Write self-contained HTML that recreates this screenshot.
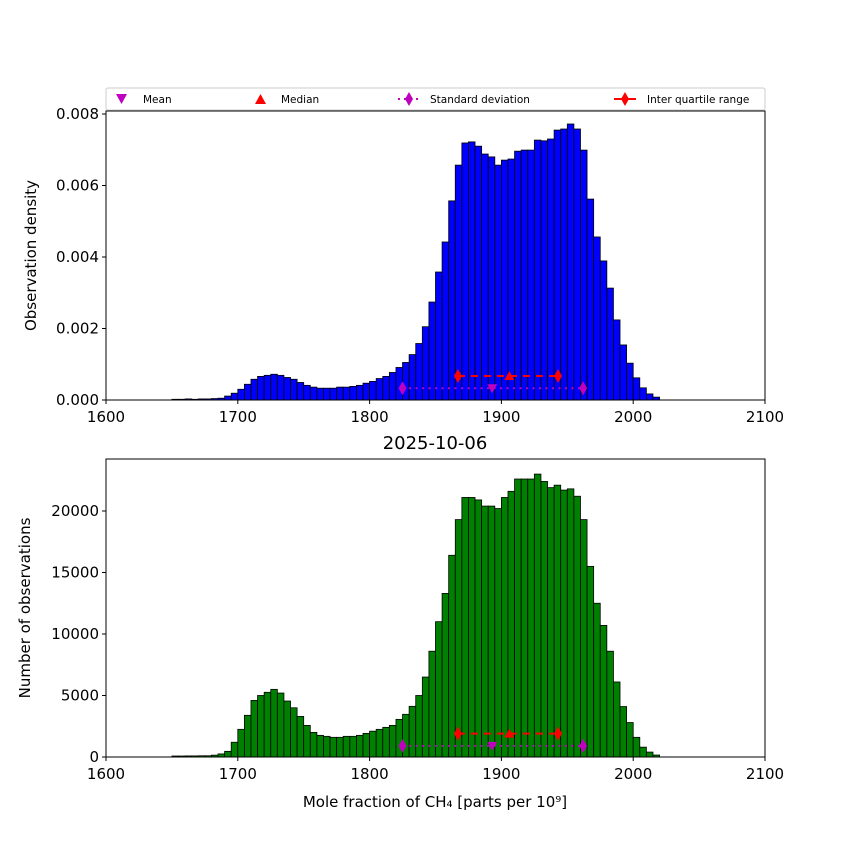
<!DOCTYPE html>
<html><head><meta charset="utf-8"><style>
body{margin:0;background:#fff;}
svg text{font-family:"DejaVu Sans","Liberation Sans",sans-serif;}
</style></head><body>
<svg id="fig" width="850" height="850" xmlns="http://www.w3.org/2000/svg"></svg>
<script>
const binStarts=[1650,1655,1660,1665,1670,1675,1680,1685,1690,1695,1700,1705,1710,1715,1720,1725,1730,1735,1740,1745,1750,1755,1760,1765,1770,1775,1780,1785,1790,1795,1800,1805,1810,1815,1820,1825,1830,1835,1840,1845,1850,1855,1860,1865,1870,1875,1880,1885,1890,1895,1900,1905,1910,1915,1920,1925,1930,1935,1940,1945,1950,1955,1960,1965,1970,1975,1980,1985,1990,1995,2000,2005,2010,2015];
const densityVals=[0.00002,0.00002,0.00003,0.00002,0.00003,0.00003,0.00004,0.00005,0.00011,0.00019,0.00030,0.00044,0.00058,0.00066,0.00069,0.00072,0.00069,0.00063,0.00058,0.00049,0.00041,0.00036,0.00033,0.00033,0.00033,0.00036,0.00036,0.00038,0.00041,0.00047,0.00052,0.00060,0.00066,0.00077,0.00091,0.00105,0.00127,0.00158,0.00205,0.00274,0.00358,0.00442,0.00557,0.00657,0.00719,0.00722,0.00710,0.00688,0.00680,0.00657,0.00671,0.00674,0.00696,0.00699,0.00699,0.00727,0.00725,0.00730,0.00755,0.00758,0.00772,0.00758,0.00699,0.00562,0.00456,0.00389,0.00313,0.00224,0.00154,0.00103,0.00062,0.00034,0.00017,0.00008];
const countVals=[80,80,90,90,100,100,150,250,460,1200,2250,3390,4600,5000,5260,5500,5200,4550,4000,3300,2570,2000,1760,1680,1600,1600,1680,1680,1760,1920,2100,2250,2410,2570,3060,3470,4120,5000,6500,8600,11000,13300,16400,19300,21100,21100,20900,20400,20400,20200,21100,21600,22600,22600,22600,23000,22400,21900,22100,21700,21800,21200,19300,15500,12500,10700,8600,6100,4100,2800,1600,800,400,160];
const binWidth=5;
const xTicks=[1600,1700,1800,1900,2000,2100];
const densityTicks=[0,0.002,0.004,0.006,0.008];
const densityTickLabels=["0.000","0.002","0.004","0.006","0.008"];
const countTicks=[0,5000,10000,15000,20000];
const statsX={mean:1893,median:1906,q1:1867,q3:1943,sdLo:1825,sdHi:1962};
const statsTop={iqrY:0.00067,sdY:0.00033};
const statsBot={iqrY:1900,sdY:900};

const svg=document.getElementById('fig');
const NS='http://www.w3.org/2000/svg';
function el(tag,attrs,parent){const e=document.createElementNS(NS,tag);for(const k in attrs)e.setAttribute(k,attrs[k]);(parent||svg).appendChild(e);return e;}
const X0=106,X1=765;
const xs=v=>X0+(v-1600)/(500)*(X1-X0);

function panel(name,top,bottom,ymax,vals,color,yticks,ylabels,ylabel,ylabelX,stats){
  const g=el('g',{});
  
  
  const ys=v=>bottom-v/ymax*(bottom-top);
  vals.forEach((v,i)=>{
    const x=xs(binStarts[i]),w=xs(binStarts[i]+binWidth)-x;
    const r=el('rect',{x:x,y:ys(v),width:w,height:bottom-ys(v),fill:color,stroke:'#000','stroke-width':0.8},g);
    
    
  });
  el('rect',{x:X0,y:top,width:X1-X0,height:bottom-top,fill:'none',stroke:'#000','stroke-width':1},g);
  xTicks.forEach(t=>{
    el('line',{x1:xs(t),x2:xs(t),y1:bottom,y2:bottom+4,stroke:'#000'},g);
    const tx=el('text',{x:xs(t),y:bottom+22,'text-anchor':'middle','font-size':15},g);tx.textContent=t;
    
    
  });
  yticks.forEach((t,i)=>{
    el('line',{x1:X0-4,x2:X0,y1:ys(t),y2:ys(t),stroke:'#000'},g);
    const tx=el('text',{x:X0-7,y:ys(t)+5,'text-anchor':'end','font-size':15},g);tx.textContent=ylabels[i];
    
    
  });
  const yl=el('text',{x:ylabelX,y:(top+bottom)/2,'text-anchor':'middle','font-size':15,transform:`rotate(-90 ${ylabelX} ${(top+bottom)/2})`},g);
  yl.textContent=ylabel;
  
  
  const yi=ys(stats.iqrY),ysd=ys(stats.sdY);
  el('line',{x1:xs(statsX.sdLo),x2:xs(statsX.sdHi),y1:ysd,y2:ysd,stroke:'#bf00bf','stroke-width':2,'stroke-dasharray':'2,4.5'},g);
  el('line',{x1:xs(statsX.q1),x2:xs(statsX.q3),y1:yi,y2:yi,stroke:'#f00','stroke-width':2,'stroke-dasharray':'7,6'},g);
  const dia=(x,y,c)=>el('path',{d:`M${x} ${y-7}L${x+4} ${y}L${x} ${y+7}L${x-4} ${y}Z`,fill:c},g);
  dia(xs(statsX.sdLo),ysd,'#bf00bf');dia(xs(statsX.sdHi),ysd,'#bf00bf');
  dia(xs(statsX.q1),yi,'#f00');dia(xs(statsX.q3),yi,'#f00');
  const mx=xs(statsX.mean);el('path',{d:`M${mx-5} ${ysd-4}L${mx+5} ${ysd-4}L${mx} ${ysd+5}Z`,fill:'#bf00bf'},g);
  const md=xs(statsX.median);el('path',{d:`M${md-5} ${yi+4}L${md+5} ${yi+4}L${md} ${yi-5}Z`,fill:'#f00'},g);
}
panel('density',111,400,0.008*(400-111)/(400-114),densityVals,'#0000ff',densityTicks,densityTickLabels,'Observation density',36,statsTop);
panel('count',459,757,(757-459)/(246/20000),countVals,'#008000',countTicks,countTicks.map(String),'Number of observations',30,statsBot);
</script>
<script>
(function(){
const svg=document.getElementById('fig');const NS='http://www.w3.org/2000/svg';
function el(tag,attrs){const e=document.createElementNS(NS,tag);for(const k in attrs)e.setAttribute(k,attrs[k]);svg.appendChild(e);return e;}
const t=el('text',{x:435,y:449,'text-anchor':'middle','font-size':18});t.textContent='2025-10-06';


const xl=el('text',{x:435,y:807,'text-anchor':'middle','font-size':15});xl.textContent='Mole fraction of CH₄ [parts per 10⁹]';


const lg=el('rect',{x:106,y:88,width:659,height:22,fill:'#fff',stroke:'#ccc',rx:2});


el('path',{d:'M116 94L127 94L121.5 104Z',fill:'#bf00bf'});
el('path',{d:'M255 104L266 104L260.5 94Z',fill:'#f00'});
el('line',{x1:398,x2:420,y1:99,y2:99,stroke:'#bf00bf','stroke-width':2,'stroke-dasharray':'2,4'});
el('path',{d:'M409 92L413 99L409 106L405 99Z',fill:'#bf00bf'});
el('line',{x1:614,x2:636,y1:99,y2:99,stroke:'#f00','stroke-width':2});
el('path',{d:'M625 92L629 99L625 106L621 99Z',fill:'#f00'});
[['Mean',143],['Median',281],['Standard deviation',430],['Inter quartile range',647]].forEach(([s,x])=>{
  const e=el('text',{x:x,y:103,'font-size':10.5});e.textContent=s;
  
  
});
})();
</script>
</body></html>
